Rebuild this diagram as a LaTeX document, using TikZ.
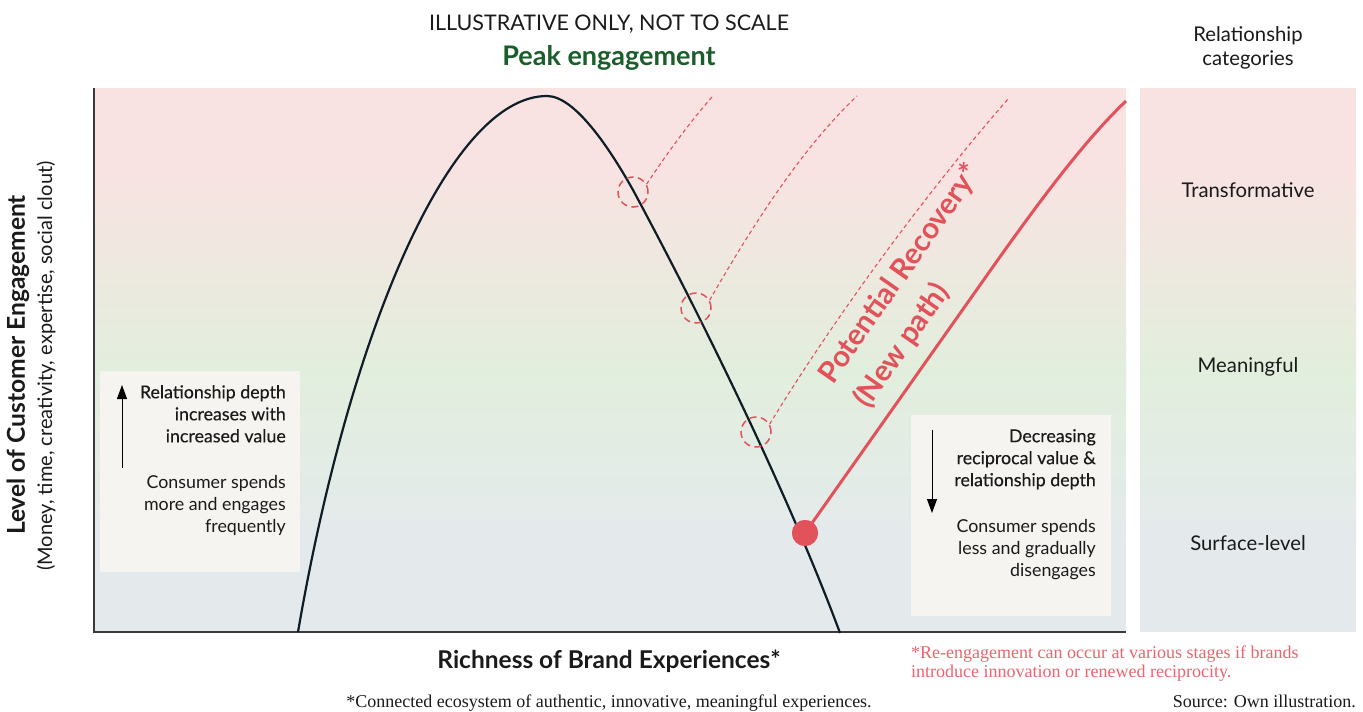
\documentclass[tikz,border=0pt]{standalone}
\usepackage{fontspec}
\setmainfont{Lato}
\newfontfamily\serifft{Liberation Serif}
\newfontfamily\medft[FakeBold=0.3]{Lato}
\usetikzlibrary{arrows.meta}
\definecolor{pinkbg}{HTML}{F8E3E2}
\definecolor{greenbg}{HTML}{E2EEDD}
\definecolor{bluebg}{HTML}{E4EAEC}
\definecolor{boxbg}{HTML}{F5F4F0}
\definecolor{redc}{HTML}{E1525B}
\definecolor{notered}{HTML}{E8666E}
\definecolor{curvec}{HTML}{0E1D26}
\definecolor{peakgreen}{HTML}{1B5E2B}
\definecolor{axisc}{HTML}{3A3A3A}
\definecolor{textc}{HTML}{1A1A1A}
\tikzset{
  every node/.style={inner sep=0pt, text=textc},
  body/.style={font=\fontsize{17.8}{22}\selectfont, align=right},
  bodymed/.style={font=\medft\fontsize{17.8}{22}\selectfont, align=right},
  catlabel/.style={font=\fontsize{20.3}{24}\selectfont},
  infobox/.style={fill=boxbg, minimum width=200pt, minimum height=201pt, anchor=north west},
  dashcirc/.style={draw=redc, line width=1.5pt, dash pattern=on 7pt off 4.5pt, circle, minimum size=30pt},
  dashpath/.style={redc, line width=1.1pt, dash pattern=on 4pt off 3pt},
  bigarrow/.style={line width=1pt, -{Triangle[length=14pt,width=10pt]}},
  note/.style={font=\serifft\fontsize{18}{18.5}\selectfont},
  rectext/.style={rotate=55, text=redc, align=left, font=\bfseries\fontsize{29.5}{43}\selectfont}
}
\begin{document}
\begin{tikzpicture}[x=1pt,y=-1pt]
\useasboundingbox (0,0) rectangle (1363,712);
\fill[white] (0,0) rectangle (1363,712);
% gradient backgrounds
\foreach \xa/\xb in {94/1126, 1140/1356}{
  \fill[pinkbg] (\xa,88) rectangle (\xb,170);
  \shade[top color=pinkbg, bottom color=greenbg] (\xa,169.5) rectangle (\xb,370);
  \shade[top color=greenbg, bottom color=bluebg] (\xa,369.5) rectangle (\xb,540);
  \fill[bluebg] (\xa,539.5) rectangle (\xb,632);
}
% info boxes
\node[infobox] (lbox) at (100,371) {};
\node[infobox] (rbox) at (911,415) {};
% axes
\coordinate (ytop) at (94,88);
\coordinate (orig) at (94,632);
\coordinate (xend) at (1126,632);
\draw[axisc, line width=1.3pt] (ytop) -- (orig) -- (xend);
% main curve
\coordinate (cstart) at (298,632);
\coordinate (cpeak) at (547,96);
\coordinate (cmid) at (633,190);
\coordinate (cend) at (840,633);
\draw[curvec, line width=2.2pt] (cstart) .. controls (350,330) and (450,96) .. (cpeak)
  .. controls (575,96) and (610,149) .. (cmid)
  .. controls (703,320) and (790,498) .. (cend);
% dashed circles and dashed paths
\node[dashcirc] (c1) at (633,192) {};
\node[dashcirc] (c2) at (696,308) {};
\node[dashcirc] (c3) at (756,432) {};
\coordinate (d1) at (712,97);
\coordinate (d2) at (857,96);
\coordinate (d3) at (1008,99);
\draw[dashpath] (c1.30) .. controls (668,152) and (690,122) .. (d1);
\draw[dashpath] (c2.30) .. controls (750,230) and (800,150) .. (d2);
\draw[dashpath] (c3.30) .. controls (830,325) and (920,200) .. (d3);
% recovery line
\node[circle, fill=redc, minimum size=26pt] (dot) at (805,533) {};
\coordinate (recmid) at (985,278);
\coordinate (recend) at (1126,101);
\draw[redc, line width=3pt] (dot.center) -- (recmid) .. controls (1040,200) and (1085,140) .. (recend);
\fill[redc] (dot) circle[radius=13pt];
% recovery label
\node[rectext] (rec) at (918,286) {Potential Recovery*\\(New path)};
% titles
\node[font=\fontsize{21.5}{26}\selectfont] (illus) at (609,24) {ILLUSTRATIVE ONLY, NOT TO SCALE};
\node[font=\bfseries\fontsize{27}{32}\selectfont, text=peakgreen] (peak) at (609,58) {Peak engagement};
\node[catlabel, align=center, font=\fontsize{20.3}{24.5}\selectfont] (relcat) at (1248,48) {Relationship\\categories};
\node[catlabel] (transf) at (1248,190) {Transformative};
\node[catlabel] (meanf) at (1248,367) {Meaningful};
\node[catlabel] (surf) at (1248,543) {Surface-level};
% axis labels
\node[rotate=90, font=\bfseries\fontsize{24.6}{28}\selectfont] (ylab) at (18,365) {Level of Customer Engagement};
\node[rotate=90, font=\fontsize{20}{24}\selectfont] (ysub) at (46,366) {(Money, time, creativity, expertise, social clout)};
\node[font=\bfseries\fontsize{24.5}{28}\selectfont] (xlab) at (609,661) {Richness of Brand Experiences*};
% left box content
\coordinate (la1) at (122,468);
\coordinate (la2) at (122,385);
\draw[bigarrow] (la1) -- (la2);
\node[bodymed, anchor=north east] (lt1) at (286,385) {Relationship depth\\increases with\\increased value};
\node[body, anchor=north east] (lt2) at (286,475) {Consumer spends\\more and engages\\frequently};
% right box content
\coordinate (ra1) at (932,430);
\coordinate (ra2) at (932,513);
\draw[bigarrow] (ra1) -- (ra2);
\node[bodymed, anchor=north east] (rt1) at (1096,429) {Decreasing\\reciprocal value \&\\relationship depth};
\node[body, anchor=north east] (rt2) at (1096,519) {Consumer spends\\less and gradually\\disengages};
% notes
\node[note, text=notered, align=left, anchor=north west] (renote) at (911,646) {*Re-engagement can occur at various stages if brands\\introduce innovation or renewed reciprocity.};
\node[note, anchor=base] (conn) at (609,707) {*Connected ecosystem of authentic, innovative, meaningful experiences.};
\node[note, anchor=base east] (src) at (1356,707) {Source: Own illustration.};
\end{tikzpicture}
\end{document}
